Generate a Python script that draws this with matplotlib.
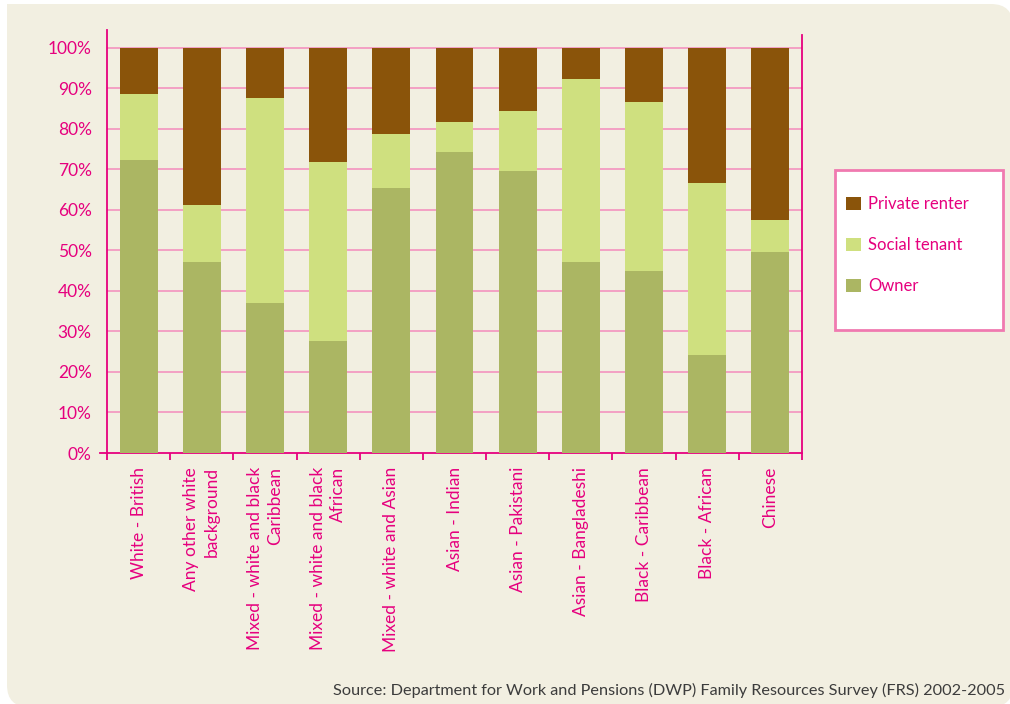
import numpy as np
import matplotlib.pyplot as plt
from matplotlib.patches import FancyBboxPatch, Rectangle

# Tenure by ethnic group (percent of households)
groups = ['White - British', 'Any other white\nbackground',
          'Mixed - white and black\nCaribbean', 'Mixed - white and black\nAfrican',
          'Mixed - white and Asian', 'Asian - Indian', 'Asian - Pakistani',
          'Asian - Bangladeshi', 'Black - Caribbean', 'Black - African', 'Chinese']
owner = [72.4, 47.2, 37.1, 27.7, 65.3, 74.4, 69.5, 47.2, 45.0, 24.3, 49.7]
social_tenant = [16.1, 14.1, 50.6, 44.2, 13.5, 7.4, 14.8, 45.0, 41.7, 42.4, 7.9]
private_renter = [11.5, 38.7, 12.3, 28.1, 21.2, 18.2, 15.7, 7.8, 13.3, 33.3, 42.4]

series_names = ['Owner', 'Social tenant', 'Private renter']

PINK = '#e6007e'
GRID = '#f49ac1'
BG = '#f2efe1'
colors = {'Owner': '#abb663', 'Social tenant': '#cfe07f', 'Private renter': '#8a540a'}

plt.rcParams['font.family'] = ['Lato', 'DejaVu Sans']

fig = plt.figure(figsize=(10.1, 7.04), dpi=100, facecolor='white')

# beige panel behind everything
panel = FancyBboxPatch((7, -3), 1006, 703, boxstyle='round,pad=0,rounding_size=22',
                       transform=None, facecolor=BG, edgecolor='none', zorder=-10)
fig.patches.append(panel)
fig.patches.append(Rectangle((7, 660), 40, 40, transform=None, facecolor=BG,
                             edgecolor='none', zorder=-9))

ax = fig.add_axes([107 / 1010, 1 - 453 / 704, 695 / 1010, 423 / 704])
ax.set_facecolor('none')

x = np.arange(len(groups))
bottom = np.zeros(len(groups))
for name, vals in zip(series_names, [owner, social_tenant, private_renter]):
    ax.bar(x, vals, width=0.6, bottom=bottom, color=colors[name], label=name, zorder=3)
    bottom += np.array(vals)

ax.set_xlim(-0.5, len(groups) - 0.5)
ax.set_ylim(0, 104.4)

yt = np.arange(0, 101, 10)
ax.set_yticks(yt)
ax.set_yticklabels([f'{v}%' for v in yt])
for v in yt[1:]:
    ax.axhline(v, color=GRID, lw=1.3, zorder=1)

ax.set_xticks(np.arange(-0.5, len(groups), 1.0))
ax.set_xticklabels([])
ax.set_xticks(x, minor=True)
ax.set_xticklabels(groups, minor=True, rotation=90, va='top', ha='center',
                   multialignment='right', linespacing=1.35)
ax.tick_params(axis='x', which='major', direction='out', length=5, width=1.3, color=PINK)
ax.tick_params(axis='x', which='minor', length=0, pad=10, labelsize=12.5, labelcolor=PINK)
ax.tick_params(axis='y', length=0, pad=11, labelsize=12.5, labelcolor=PINK)

for s in ['left', 'bottom', 'right']:
    ax.spines[s].set_color(PINK)
    ax.spines[s].set_linewidth(1.3)
ax.spines['top'].set_visible(False)
ax.spines['bottom'].set_bounds(-0.61, len(groups) - 0.5)
ax.spines['right'].set_bounds(0, 103.2)

# legend box
fig.patches.append(Rectangle((835, 704 - 330), 168, 160, transform=None,
                             facecolor='white', edgecolor='#f07ab0', lw=2, zorder=1))
handles, labels = ax.get_legend_handles_labels()
leg = fig.legend(handles[::-1], labels[::-1], loc='upper left',
                 bbox_to_anchor=(838 / 1010, 1 - 188 / 704), frameon=False,
                 fontsize=12, labelcolor=PINK, handlelength=0.85, handleheight=0.85,
                 handletextpad=0.45, labelspacing=1.5, borderpad=0)

fig.text(1005 / 1010, 1 - 690 / 704,
         'Source: Department for Work and Pensions (DWP) Family Resources Survey (FRS) 2002-2005',
         ha='right', va='center', fontsize=11.7, color='#3c3c3c')

fig.savefig('out.png', dpi=100, facecolor=fig.get_facecolor())
